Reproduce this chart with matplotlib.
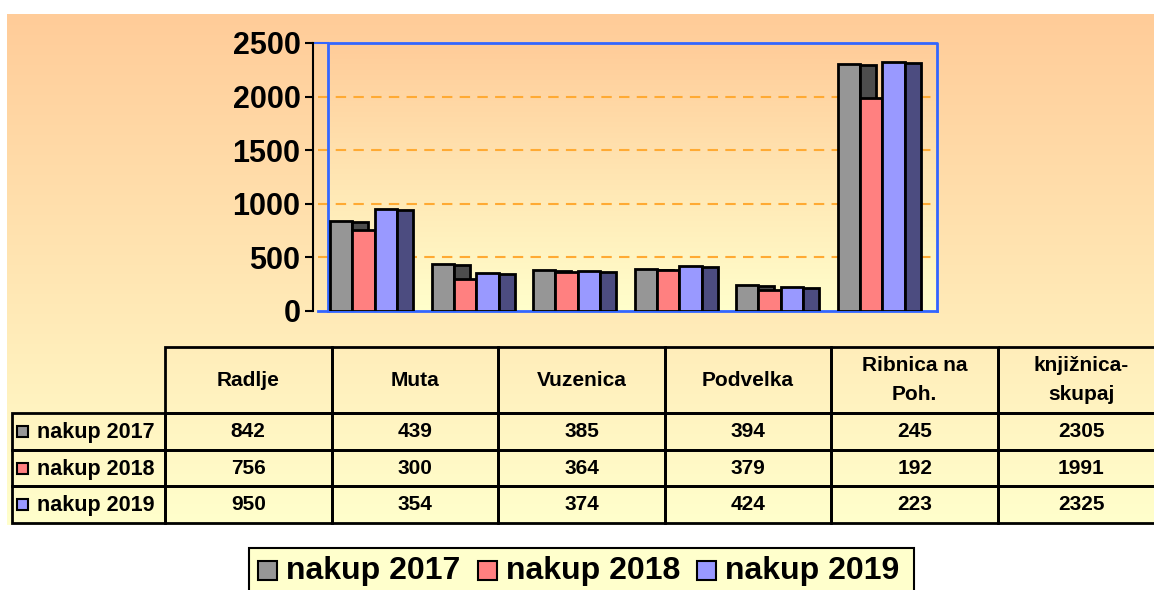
import numpy as np
import matplotlib
matplotlib.use('Agg')
import matplotlib.pyplot as plt
from matplotlib.patches import Rectangle

plt.rcParams['font.family'] = ['Liberation Sans', 'DejaVu Sans']
plt.rcParams['font.weight'] = 'bold'

# data
categories = ['Radlje', 'Muta', 'Vuzenica', 'Podvelka', 'Ribnica na\nPoh.', 'knjižnica-\nskupaj']
series_names = ['nakup 2017', 'nakup 2018', 'nakup 2019']
nakup_2017 = [842, 439, 385, 394, 245, 2305]
nakup_2018 = [756, 300, 364, 379, 192, 1991]
nakup_2019 = [950, 354, 374, 424, 223, 2325]
series_values = [nakup_2017, nakup_2018, nakup_2019]
y_ticks = [0, 500, 1000, 1500, 2000, 2500]

front_colors = ['#969696', '#FF8080', '#9999FF']
side_colors = ['#4D4D4D', '#804040', '#4C4C80']

W, H = 1154, 590
fig = plt.figure(figsize=(W / 100, H / 100), dpi=100)

# background layer in pixel coordinates
bg = fig.add_axes([0, 0, 1, 1])
bg.set_xlim(0, W)
bg.set_ylim(H, 0)
bg.axis('off')

top_c = np.array([255, 204, 153]) / 255
bot_c = np.array([255, 255, 204]) / 255
t = np.linspace(0, 1, 256)[:, None, None]
grad = top_c * (1 - t) + bot_c * t
bg.imshow(grad, extent=(7, W, 525, 14), aspect='auto', zorder=0)

# chart axes
px_left, px_right, px_top, px_bot = 313, 937, 43, 311
ax = fig.add_axes([px_left / W, 1 - px_bot / H, (px_right - px_left) / W, (px_bot - px_top) / H])
ax.set_facecolor('none')
n = len(categories)
unit = (px_right - 328) / n
x_lo = -0.5 - (328 - px_left) / unit
ax.set_xlim(x_lo, n - 0.5)
ax.set_ylim(0, 2500)

ax.imshow(grad, extent=(-0.5, n - 0.5, 0, 2500), aspect='auto', zorder=0)

for v in y_ticks[1:-1]:
    ax.plot([-0.6, n - 0.5], [v, v], color='#FFAA33', lw=1.5, dashes=(5, 3.5), zorder=1)

w = 0.22
d = 0.158
drop = 12
x = np.arange(n)
for j, vals in enumerate(series_values):
    vals = np.array(vals)
    xl = x - 0.48 + j * w
    ax.bar(xl, vals, width=w, align='edge', color=front_colors[j],
           edgecolor='black', linewidth=2, zorder=3 + 2 * j)
    ax.bar(xl + w, vals - drop, width=d, align='edge', color=side_colors[j],
           edgecolor='black', linewidth=2, zorder=4 + 2 * j)

# blue plot-area frame
blue = '#3366FF'
ax.plot([-0.5, -0.5, n - 0.5, n - 0.5], [0, 2500, 2500, 0], color=blue, lw=2, zorder=2, clip_on=False)
ax.plot([x_lo + 0.05, n - 0.5], [0, 0], color=blue, lw=2, zorder=2, clip_on=False)
ax.plot([x_lo, -0.5], [2500, 2500], color=blue, lw=1.5, zorder=2, clip_on=False)

for s in ['top', 'right', 'bottom']:
    ax.spines[s].set_visible(False)
ax.spines['left'].set_linewidth(1.5)
ax.set_xticks([])
ax.set_yticks(y_ticks)
ax.tick_params(axis='y', length=6, width=1.5, pad=3, labelsize=22)
for lbl in ax.get_yticklabels():
    lbl.set_fontweight('bold')

# data table (pixel layout)
col_x0, col_w = 165, 166.6
lab_x0 = 12
hdr_top, hdr_bot = 347, 413
row_h = (523 - hdr_bot) / 3
for i, cat in enumerate(categories):
    cx = col_x0 + i * col_w
    bg.add_patch(Rectangle((cx, hdr_top), col_w, hdr_bot - hdr_top, fill=False,
                           edgecolor='black', lw=2, zorder=3))
    bg.text(cx + col_w / 2, (hdr_top + hdr_bot) / 2, cat, ha='center', va='center',
            fontsize=15, fontweight='bold', linespacing=1.7, zorder=4)
for r, (name, vals) in enumerate(zip(series_names, series_values)):
    ry = hdr_bot + r * row_h
    bg.add_patch(Rectangle((lab_x0, ry), col_x0 - lab_x0, row_h, fill=False,
                           edgecolor='black', lw=2, zorder=3))
    bg.add_patch(Rectangle((17, ry + row_h / 2 - 5.5), 11, 11, facecolor=front_colors[r],
                           edgecolor='black', lw=1.5, zorder=4))
    bg.text(37, ry + row_h / 2 + 1, name, ha='left', va='center', fontsize=15.5,
            fontweight='bold', zorder=4)
    for i, v in enumerate(vals):
        cx = col_x0 + i * col_w
        bg.add_patch(Rectangle((cx, ry), col_w, row_h, fill=False,
                               edgecolor='black', lw=2, zorder=3))
        bg.text(cx + col_w / 2, ry + row_h / 2, str(v), ha='center', va='center',
                fontsize=15, fontweight='bold', zorder=4)

# legend box
bg.add_patch(Rectangle((249, 548), 914 - 249, 60, facecolor='#FFFFCC',
                       edgecolor='black', lw=1.5, zorder=3))
leg_x = [258, 478, 697]
for k, name in enumerate(series_names):
    bg.add_patch(Rectangle((leg_x[k], 561), 19, 19, facecolor=front_colors[k],
                           edgecolor='black', lw=1.5, zorder=4))
    bg.text(leg_x[k] + 28, 571, name, ha='left', va='center', fontsize=23,
            fontweight='bold', zorder=4)

fig.savefig('out.png', dpi=100)
